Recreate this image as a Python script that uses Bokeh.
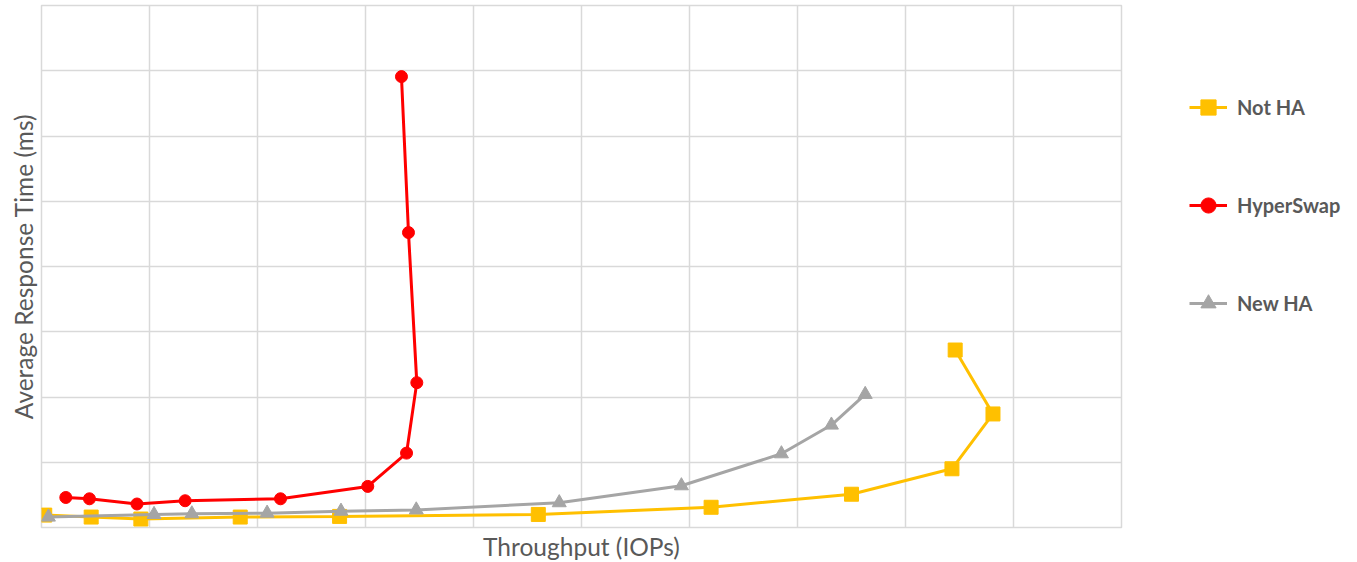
from bokeh.plotting import figure
from bokeh.models import Legend, LegendItem, FixedTicker
from bokeh.embed import file_html
from bokeh.resources import INLINE

# Data (x in grid units of throughput, y in grid units of response time)
not_ha_x = [0.03, 0.46, 0.92, 1.84, 2.76, 4.60, 6.20, 7.50, 8.43, 8.81, 8.46]
not_ha_y = [0.19, 0.16, 0.13, 0.16, 0.17, 0.20, 0.31, 0.51, 0.90, 1.74, 2.72]

hyperswap_x = [0.225, 0.444, 0.884, 1.330, 2.213, 3.021, 3.380, 3.475, 3.398, 3.333]
hyperswap_y = [0.46, 0.44, 0.36, 0.41, 0.44, 0.63, 1.14, 2.22, 4.52, 6.91]

new_ha_x = [0.064, 1.042, 1.392, 2.089, 2.773, 3.470, 4.794, 5.925, 6.851, 7.314, 7.627]
new_ha_y = [0.16, 0.20, 0.21, 0.22, 0.25, 0.27, 0.38, 0.64, 1.13, 1.57, 2.04]

x_grid_ticks = list(range(0, 11))
y_grid_ticks = list(range(0, 9))

FONT = "Lato"
TEXT_COLOR = "#595959"
GRID_COLOR = "#D9D9D9"

p = figure(frame_width=1080, frame_height=522, x_range=(0, 10), y_range=(0, 8),
           min_border_left=41, min_border_top=5, min_border_bottom=35, min_border_right=0,
           output_backend="svg", toolbar_location=None)
p.background_fill_color = "white"
p.border_fill_color = "white"
p.outline_line_color = GRID_COLOR
p.outline_line_width = 1.5

for ax in (p.xaxis[0], p.yaxis[0]):
    ax.ticker = FixedTicker(ticks=[])
    ax.axis_line_color = None
    ax.major_tick_line_color = None
    ax.minor_tick_line_color = None
    ax.major_tick_out = 0
    ax.major_tick_in = 0
    ax.major_label_standoff = 0
    ax.major_label_text_font_size = "0px"
    ax.axis_label_text_font = FONT
    ax.axis_label_text_font_style = "normal"
    ax.axis_label_text_color = TEXT_COLOR
    ax.axis_label_text_font_size = "24.5px"

p.xaxis.axis_label = "Throughput (IOPs)"
p.yaxis.axis_label = "Average Response Time (ms)"
p.xaxis.axis_label_standoff = 4
p.yaxis.axis_label_standoff = 4

p.xgrid.ticker = FixedTicker(ticks=x_grid_ticks)
p.ygrid.ticker = FixedTicker(ticks=y_grid_ticks)
p.xgrid.grid_line_color = GRID_COLOR
p.ygrid.grid_line_color = GRID_COLOR
p.xgrid.grid_line_width = 1.5
p.ygrid.grid_line_width = 1.5

YELLOW = "#FFC000"
RED = "#FF0000"
GRAY = "#A5A5A5"

l1 = p.line(not_ha_x, not_ha_y, line_color=YELLOW, line_width=3)
m1 = p.scatter(not_ha_x, not_ha_y, marker="square", size=14, fill_color=YELLOW, line_color=YELLOW)

l2 = p.line(hyperswap_x, hyperswap_y, line_color=RED, line_width=3)
m2 = p.scatter(hyperswap_x, hyperswap_y, marker="circle", size=12, fill_color=RED, line_color=RED)

l3 = p.line(new_ha_x, new_ha_y, line_color=GRAY, line_width=3)
m3 = p.scatter(new_ha_x, new_ha_y, marker="triangle", size=14, fill_color=GRAY, line_color=GRAY)

legend = Legend(items=[
    LegendItem(label="Not HA", renderers=[l1, m1]),
    LegendItem(label="HyperSwap", renderers=[l2, m2]),
    LegendItem(label="New HA", renderers=[l3, m3]),
], location="top_left")
legend.glyph_width = 38
legend.glyph_height = 68
legend.label_height = 68
legend.spacing = 30
legend.margin = 68
legend.padding = 10
legend.label_standoff = 10
legend.border_line_color = None
legend.background_fill_alpha = 0
legend.label_text_font = FONT
legend.label_text_font_style = "bold"
legend.label_text_font_size = "20px"
legend.label_text_color = TEXT_COLOR
p.add_layout(legend, "right")

open("out.html", "w").write(file_html(p, INLINE))
